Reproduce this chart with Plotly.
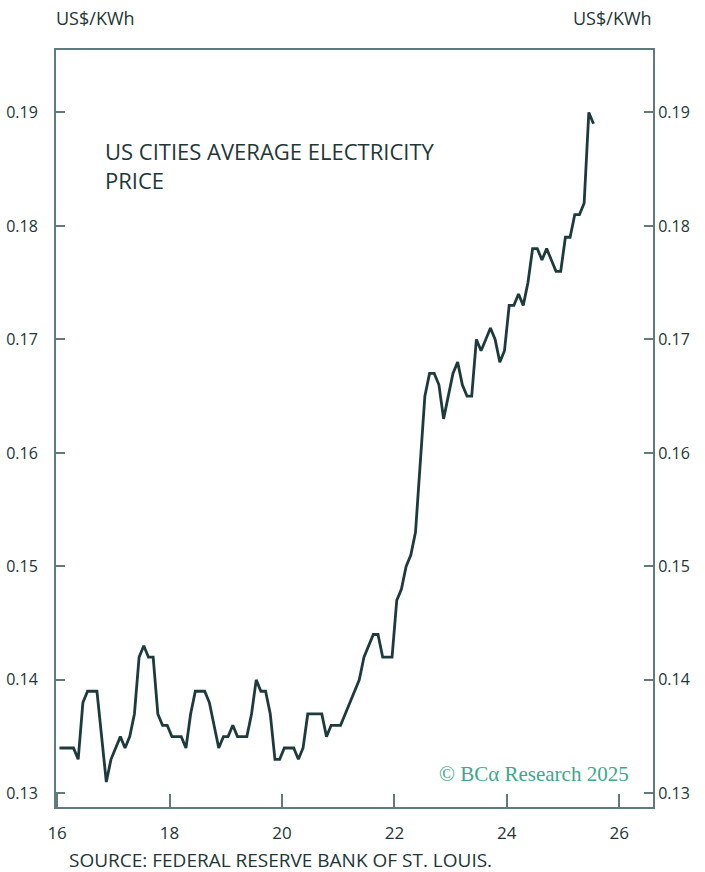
import plotly.graph_objects as go

# Monthly average electricity price, US city average (US$/KWh), Jan 2016 - Jul 2025
price_2016 = [0.134, 0.134, 0.134, 0.134, 0.133, 0.138, 0.139, 0.139, 0.139, 0.135, 0.131, 0.133]
price_2017 = [0.134, 0.135, 0.134, 0.135, 0.137, 0.142, 0.143, 0.142, 0.142, 0.137, 0.136, 0.136]
price_2018 = [0.135, 0.135, 0.135, 0.134, 0.137, 0.139, 0.139, 0.139, 0.138, 0.136, 0.134, 0.135]
price_2019 = [0.135, 0.136, 0.135, 0.135, 0.135, 0.137, 0.140, 0.139, 0.139, 0.137, 0.133, 0.133]
price_2020 = [0.134, 0.134, 0.134, 0.133, 0.134, 0.137, 0.137, 0.137, 0.137, 0.135, 0.136, 0.136]
price_2021 = [0.136, 0.137, 0.138, 0.139, 0.140, 0.142, 0.143, 0.144, 0.144, 0.142, 0.142, 0.142]
price_2022 = [0.147, 0.148, 0.150, 0.151, 0.153, 0.159, 0.165, 0.167, 0.167, 0.166, 0.163, 0.165]
price_2023 = [0.167, 0.168, 0.166, 0.165, 0.165, 0.170, 0.169, 0.170, 0.171, 0.170, 0.168, 0.169]
price_2024 = [0.173, 0.173, 0.174, 0.173, 0.175, 0.178, 0.178, 0.177, 0.178, 0.177, 0.176, 0.176]
price_2025 = [0.179, 0.179, 0.181, 0.181, 0.182, 0.190, 0.189]

yearly = [price_2016, price_2017, price_2018, price_2019, price_2020,
          price_2021, price_2022, price_2023, price_2024, price_2025]
start_years = [16, 17, 18, 19, 20, 21, 22, 23, 24, 25]

x_vals, y_vals = [], []
for yr, vals in zip(start_years, yearly):
    for m, v in enumerate(vals):
        x_vals.append(yr + (m + 0.5) / 12)
        y_vals.append(v)

x_ticks = [16, 18, 20, 22, 24, 26]
y_ticks = [0.13, 0.14, 0.15, 0.16, 0.17, 0.18, 0.19]
y_tick_text = ["0.13", "0.14", "0.15", "0.16", "0.17", "0.18", "0.19"]

LINE = "#1d3a3d"
AXIS = "#5f7b7d"
TEXT = "#223637"
FONT = "Open Sans"

fig = go.Figure()
fig.add_trace(go.Scatter(x=x_vals, y=y_vals, mode="lines",
                         line=dict(color=LINE, width=2.8), showlegend=False,
                         hoverinfo="skip"))
fig.add_trace(go.Scatter(x=x_vals, y=y_vals, mode="lines", yaxis="y2",
                         line=dict(color="rgba(0,0,0,0)", width=0), showlegend=False,
                         hoverinfo="skip"))

y_range = [0.1288, 0.1955]
common_y = dict(range=y_range, tickvals=y_ticks, ticktext=y_tick_text,
                ticks="inside", ticklen=9, tickwidth=2, tickcolor=AXIS,
                showgrid=False, zeroline=False, showline=True, linecolor=AXIS, linewidth=2,
                automargin=False,
                tickfont=dict(family=FONT, size=16, color=TEXT, weight=500))

fig.update_layout(
    width=705, height=872,
    margin=dict(l=56, r=52, t=50, b=65),
    paper_bgcolor="white", plot_bgcolor="white",
    font=dict(family=FONT, color=TEXT),
    xaxis=dict(range=[15.98, 26.6], tickvals=x_ticks, ticktext=[str(t) for t in x_ticks],
               ticks="inside", ticklen=13, tickwidth=2, tickcolor=AXIS,
               showgrid=False, zeroline=False, showline=True, linecolor=AXIS, linewidth=2,
               mirror=True, ticklabelstandoff=10, automargin=False,
               tickfont=dict(family=FONT, size=17, color=TEXT, weight=500)),
    yaxis=dict(side="left", ticklabelstandoff=13, **common_y),
    yaxis2=dict(side="right", overlaying="y", ticklabelstandoff=0, **common_y),
)

annotations = [
    dict(text="US$/KWh", x=-0.003, y=1.042, xanchor="left", yanchor="middle",
         font=dict(size=18, color=TEXT, family=FONT, weight=500)),
    dict(text="US$/KWh", x=1.002, y=1.042, xanchor="right", yanchor="middle",
         font=dict(size=18, color=TEXT, family=FONT, weight=500)),
    dict(text="US CITIES AVERAGE ELECTRICITY<br>PRICE", x=0.078, y=0.848,
         xanchor="left", yanchor="middle", align="left",
         font=dict(size=22, color=TEXT, family=FONT, weight=500)),
    dict(text="SOURCE: FEDERAL RESERVE BANK OF ST. LOUIS.", x=0.0185, y=-0.070,
         xanchor="left", yanchor="middle",
         font=dict(size=19, color=TEXT, family=FONT, weight=500)),
    dict(text="© BCα Research 2025", x=0.963, y=0.043, xanchor="right", yanchor="middle",
         font=dict(size=21, color="#3aa88c", family="Liberation Serif")),
]
for a in annotations:
    a.update(xref="paper", yref="paper", showarrow=False)
fig.update_layout(annotations=annotations)

fig.write_html("out.html", config={"displayModeBar": False},
               post_script="document.body.style.margin='0';document.body.style.padding='0';")
